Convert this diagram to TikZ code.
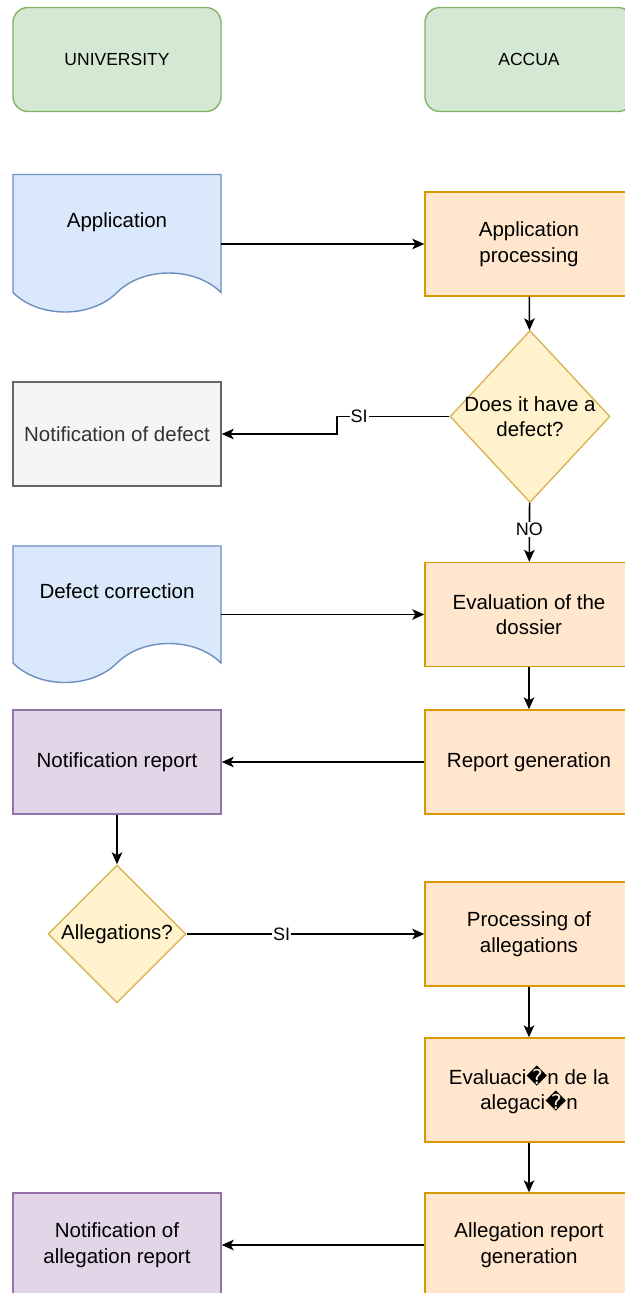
\documentclass[tikz,border=0pt]{standalone}
\usepackage{fontspec}
\setmainfont{Liberation Sans}
\newfontfamily\replfont{DejaVu Sans}
\usetikzlibrary{arrows.meta,shapes.geometric}
\definecolor{greenfill}{HTML}{D5E8D4}
\definecolor{greenline}{HTML}{82B366}
\definecolor{bluefill}{HTML}{DAE8FC}
\definecolor{blueline}{HTML}{6C8EBF}
\definecolor{orangefill}{HTML}{FFE6CC}
\definecolor{orangeline}{HTML}{D79B00}
\definecolor{yellowfill}{HTML}{FFF2CC}
\definecolor{yellowline}{HTML}{D6B656}
\definecolor{grayfill}{HTML}{F5F5F5}
\definecolor{grayline}{HTML}{666666}
\definecolor{graytext}{HTML}{333333}
\definecolor{purplefill}{HTML}{E1D5E7}
\definecolor{purpleline}{HTML}{9673A6}

\begin{document}
\begin{tikzpicture}[x=1pt,y=-1pt]
\tikzstyle{every node}+=[node distance=412pt, font=\fontsize{20.5}{25.5}\selectfont]
\tikzstyle{box}=[rectangle, draw, line width=1.4pt, minimum width=208pt, minimum height=104pt, align=center, inner sep=0pt]
\tikzstyle{lane}=[box, rounded corners=15pt, fill=greenfill, draw=greenline, font=\fontsize{17.5}{20}\selectfont]
\tikzstyle{task}=[box, fill=orangefill, draw=orangeline]
\tikzstyle{notice}=[box, fill=purplefill, draw=purpleline]
\tikzstyle{docline}=[draw=blueline, fill=bluefill, line width=1.4pt]
\tikzstyle{doc}=[rectangle, minimum width=208pt, minimum height=137pt, text depth=47pt, inner sep=0pt]
\tikzstyle{question}=[diamond, draw=yellowline, fill=yellowfill, line width=1.4pt, inner sep=0pt]
\tikzstyle{lbl}=[fill=white, inner sep=1pt, font=\fontsize{18}{20}\selectfont]
\tikzstyle{flow}=[line width=1.6pt, -{Stealth[length=12pt,width=10.5pt,inset=3pt]}]

\useasboundingbox (0,0) rectangle (624,1293);

% lanes
\node (univ) at (117,59.5) [lane] {UNIVERSITY};
\node (accua) [lane, right of=univ] {ACCUA};

% documents
\draw[docline, shift={(117,244)}] (-104,-69.5) -- (104,-69.5) -- (104,48.5)
  .. controls (78,22.5) and (26,22.5) .. (0,48.5)
  .. controls (-26,74.5) and (-78,74.5) .. (-104,48.5) -- cycle;
\draw[docline, shift={(117,614.5)}] (-104,-68.5) -- (104,-68.5) -- (104,48.5)
  .. controls (78,22.5) and (26,22.5) .. (0,48.5)
  .. controls (-26,74.5) and (-78,74.5) .. (-104,48.5) -- cycle;
\node (appl) at (117,244) [doc] {Application};
\node (defcorr) at (117,614.5) [doc] {Defect correction};

% steps
\node (appproc) [task, right of=appl] {Application\\processing};
\node (defect) at (530,416.5) [question, minimum width=160pt, minimum height=172pt,
  label={[align=center]center:Does it have a\\defect?}] {};
\node (notdef) at (117,434) [box, fill=grayfill, draw=grayline, text=graytext] {Notification of defect};
\node (eval) [task, right of=defcorr] {Evaluation of the\\dossier};
\node (notrep) at (117,762) [notice] {Notification report};
\node (repgen) [task, right of=notrep] {Report generation};
\node (allq) at (117,934) [question, minimum width=138pt, minimum height=138pt,
  label={center:Allegations?}] {};
\node (procall) [task, right of=allq] {Processing of\\allegations};
\node (evalall) at (529,1090) [task] {Evaluaci{\replfont �}n de la\\alegaci{\replfont �}n};
\node (allrep) at (529,1245) [task] {Allegation report\\generation};
\node (notall) [notice, left of=allrep] {Notification of\\allegation report};

\path[flow]
  (appl) edge (appproc)
  (appproc) edge (defect)
  (defect) edge node[lbl, pos=0.45] {NO} (eval)
  (defcorr) edge (eval)
  (eval) edge (repgen)
  (repgen) edge (notrep)
  (notrep) edge (allq)
  (allq) edge node[lbl, pos=0.4] {SI} (procall)
  (procall) edge (evalall)
  (evalall) edge (allrep)
  (allrep) edge (notall)
;
\draw[flow] (defect.west) -| node[lbl, pos=0.4] {SI} ([xshift=115pt]notdef.east) -- (notdef.east);
\end{tikzpicture}
\end{document}
